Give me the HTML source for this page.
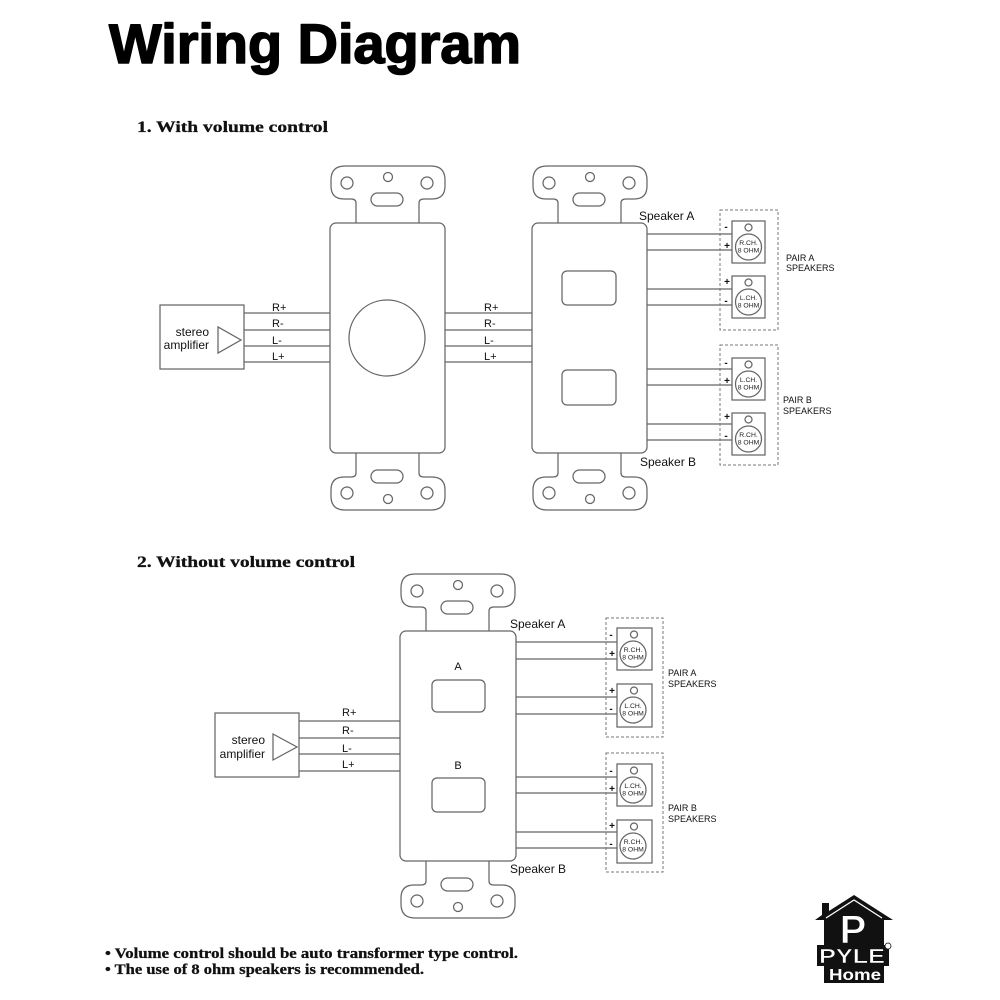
<!DOCTYPE html>
<html>
<head>
<meta charset="utf-8">
<style>
  html,body{margin:0;padding:0;background:#fff;}
  svg{display:block;}
  .ln{stroke:#666;stroke-width:1.25;fill:none;}
  .pl{stroke:#666;stroke-width:1.25;fill:#fff;}
  .ds{stroke:#777;stroke-width:1;fill:none;stroke-dasharray:3,2;}
  .lb{font-family:"Liberation Sans",Arial,sans-serif;font-size:11px;fill:#111;}
  .sp{font-family:"Liberation Sans",Arial,sans-serif;font-size:12px;fill:#111;}
  .pr{font-family:"Liberation Sans",Arial,sans-serif;font-size:9px;fill:#111;}
  .sg{font-family:"Liberation Sans",Arial,sans-serif;font-size:10px;font-weight:bold;fill:#111;text-anchor:middle;}
  .ch{font-family:"Liberation Sans",Arial,sans-serif;font-size:6.8px;fill:#222;text-anchor:middle;}
  .hd{font-family:"Liberation Serif","Times New Roman",serif;font-weight:bold;fill:#111;}
</style>
</head>
<body>
<svg width="1000" height="1000" viewBox="0 0 1000 1000" xmlns="http://www.w3.org/2000/svg">
<rect width="1000" height="1000" fill="#fff"/>

<!-- Title -->
<text x="109" y="63" font-family="'Liberation Sans',Arial,sans-serif" font-weight="bold" font-size="56" fill="#000" stroke="#000" stroke-width="1.6" stroke-linejoin="round" textLength="412" lengthAdjust="spacingAndGlyphs">Wiring Diagram</text>

<text class="hd" x="137" y="132" font-size="16" stroke="#111" stroke-width="0.3" textLength="191" lengthAdjust="spacingAndGlyphs">1. With volume control</text>
<text class="hd" x="137" y="567" font-size="16" stroke="#111" stroke-width="0.3" textLength="218" lengthAdjust="spacingAndGlyphs">2. Without volume control</text>

<!-- ================= DIAGRAM 1 ================= -->
<rect class="pl" x="160" y="305" width="84" height="64"/>
<polygon class="ln" points="218,327 218,353 241,340"/>
<text class="sp" x="209" y="336" text-anchor="end">stereo</text>
<text class="sp" x="209" y="349" text-anchor="end">amplifier</text>

<line class="ln" x1="244" y1="313" x2="330" y2="313"/>
<line class="ln" x1="244" y1="330" x2="330" y2="330"/>
<line class="ln" x1="244" y1="346" x2="330" y2="346"/>
<line class="ln" x1="244" y1="362" x2="330" y2="362"/>
<text class="lb" x="272" y="311">R+</text>
<text class="lb" x="272" y="327">R-</text>
<text class="lb" x="272" y="344">L-</text>
<text class="lb" x="272" y="360">L+</text>

<!-- plate 1 (volume) -->
<path class="pl" d="M356,223 V203 Q356,199 351,199 H344 Q331,199 331,186 V180 Q331,166 345,166 H431 Q445,166 445,180 V186 Q445,199 432,199 H424 Q419,199 419,203 V223"/>
<circle class="ln" cx="347" cy="183" r="6"/>
<circle class="ln" cx="427" cy="183" r="6"/>
<circle class="ln" cx="388" cy="177" r="4.5"/>
<rect class="ln" x="371" y="193" width="32" height="13" rx="6.5"/>
<path class="pl" d="M356,453 V473 Q356,477 351,477 H344 Q331,477 331,490 V496 Q331,510 345,510 H431 Q445,510 445,496 V490 Q445,477 432,477 H424 Q419,477 419,473 V453"/>
<circle class="ln" cx="347" cy="493" r="6"/>
<circle class="ln" cx="427" cy="493" r="6"/>
<circle class="ln" cx="388" cy="499" r="4.5"/>
<rect class="ln" x="371" y="470" width="32" height="13" rx="6.5"/>
<rect class="pl" x="330" y="223" width="115" height="230" rx="6"/>
<circle class="ln" cx="387" cy="338" r="38"/>

<line class="ln" x1="445" y1="313" x2="532" y2="313"/>
<line class="ln" x1="445" y1="330" x2="532" y2="330"/>
<line class="ln" x1="445" y1="346" x2="532" y2="346"/>
<line class="ln" x1="445" y1="362" x2="532" y2="362"/>
<text class="lb" x="484" y="311">R+</text>
<text class="lb" x="484" y="327">R-</text>
<text class="lb" x="484" y="344">L-</text>
<text class="lb" x="484" y="360">L+</text>

<!-- plate 2 (selector) -->
<path class="pl" d="M558,223 V203 Q558,199 553,199 H546 Q533,199 533,186 V180 Q533,166 547,166 H633 Q647,166 647,180 V186 Q647,199 634,199 H626 Q621,199 621,203 V223"/>
<circle class="ln" cx="549" cy="183" r="6"/>
<circle class="ln" cx="629" cy="183" r="6"/>
<circle class="ln" cx="590" cy="177" r="4.5"/>
<rect class="ln" x="573" y="193" width="32" height="13" rx="6.5"/>
<path class="pl" d="M558,453 V473 Q558,477 553,477 H546 Q533,477 533,490 V496 Q533,510 547,510 H633 Q647,510 647,496 V490 Q647,477 634,477 H626 Q621,477 621,473 V453"/>
<circle class="ln" cx="549" cy="493" r="6"/>
<circle class="ln" cx="629" cy="493" r="6"/>
<circle class="ln" cx="590" cy="499" r="4.5"/>
<rect class="ln" x="573" y="470" width="32" height="13" rx="6.5"/>
<rect class="pl" x="532" y="223" width="115" height="230" rx="6"/>
<rect class="ln" x="562" y="271" width="54" height="34" rx="5"/>
<rect class="ln" x="562" y="370" width="54" height="35" rx="5"/>

<text class="sp" x="639" y="220">Speaker A</text>
<text class="sp" x="640" y="466">Speaker B</text>

<line class="ln" x1="647" y1="234" x2="732" y2="234"/>
<line class="ln" x1="647" y1="250" x2="732" y2="250"/>
<line class="ln" x1="647" y1="289" x2="732" y2="289"/>
<line class="ln" x1="647" y1="305" x2="732" y2="305"/>
<line class="ln" x1="647" y1="369" x2="732" y2="369"/>
<line class="ln" x1="647" y1="385" x2="732" y2="385"/>
<line class="ln" x1="647" y1="424" x2="732" y2="424"/>
<line class="ln" x1="647" y1="440" x2="732" y2="440"/>

<rect class="ds" x="720" y="210" width="58" height="120"/>
<rect class="ds" x="720" y="345" width="58" height="120"/>

<rect class="pl" x="732" y="221" width="33" height="42"/>
<circle class="ln" cx="748.5" cy="227.5" r="3.5"/>
<circle class="ln" cx="748.5" cy="247" r="13"/>
<text class="ch" x="748.5" y="245">R.CH.</text>
<text class="ch" x="748.5" y="252.5">8 OHM</text>

<rect class="pl" x="732" y="276" width="33" height="42"/>
<circle class="ln" cx="748.5" cy="282.5" r="3.5"/>
<circle class="ln" cx="748.5" cy="302" r="13"/>
<text class="ch" x="748.5" y="300">L.CH.</text>
<text class="ch" x="748.5" y="307.5">8 OHM</text>

<rect class="pl" x="732" y="358" width="33" height="42"/>
<circle class="ln" cx="748.5" cy="364.5" r="3.5"/>
<circle class="ln" cx="748.5" cy="384" r="13"/>
<text class="ch" x="748.5" y="382">L.CH.</text>
<text class="ch" x="748.5" y="389.5">8 OHM</text>

<rect class="pl" x="732" y="413" width="33" height="42"/>
<circle class="ln" cx="748.5" cy="419.5" r="3.5"/>
<circle class="ln" cx="748.5" cy="439" r="13"/>
<text class="ch" x="748.5" y="437">R.CH.</text>
<text class="ch" x="748.5" y="444.5">8 OHM</text>

<text class="sg" x="726" y="230">-</text>
<text class="sg" x="727" y="249">+</text>
<text class="sg" x="727" y="285">+</text>
<text class="sg" x="726" y="304">-</text>
<text class="sg" x="726" y="366">-</text>
<text class="sg" x="727" y="384">+</text>
<text class="sg" x="727" y="420">+</text>
<text class="sg" x="726" y="439">-</text>

<text class="pr" x="786" y="261">PAIR A</text>
<text class="pr" x="786" y="271">SPEAKERS</text>
<text class="pr" x="783" y="403">PAIR B</text>
<text class="pr" x="783" y="414">SPEAKERS</text>

<!-- ================= DIAGRAM 2 ================= -->
<rect class="pl" x="215" y="713" width="84" height="64"/>
<polygon class="ln" points="273,734 273,760 297,747"/>
<text class="sp" x="265" y="744" text-anchor="end">stereo</text>
<text class="sp" x="265" y="758" text-anchor="end">amplifier</text>

<line class="ln" x1="299" y1="721" x2="400" y2="721"/>
<line class="ln" x1="299" y1="738" x2="400" y2="738"/>
<line class="ln" x1="299" y1="754" x2="400" y2="754"/>
<line class="ln" x1="299" y1="771" x2="400" y2="771"/>
<text class="lb" x="342" y="716">R+</text>
<text class="lb" x="342" y="734">R-</text>
<text class="lb" x="342" y="752">L-</text>
<text class="lb" x="342" y="768">L+</text>

<path class="pl" d="M426,631 V611 Q426,607 421,607 H414 Q401,607 401,594 V588 Q401,574 415,574 H501 Q515,574 515,588 V594 Q515,607 502,607 H494 Q489,607 489,611 V631"/>
<circle class="ln" cx="417" cy="591" r="6"/>
<circle class="ln" cx="497" cy="591" r="6"/>
<circle class="ln" cx="458" cy="585" r="4.5"/>
<rect class="ln" x="441" y="601" width="32" height="13" rx="6.5"/>
<path class="pl" d="M426,861 V881 Q426,885 421,885 H414 Q401,885 401,898 V904 Q401,918 415,918 H501 Q515,918 515,904 V898 Q515,885 502,885 H494 Q489,885 489,881 V861"/>
<circle class="ln" cx="417" cy="901" r="6"/>
<circle class="ln" cx="497" cy="901" r="6"/>
<circle class="ln" cx="458" cy="907" r="4.5"/>
<rect class="ln" x="441" y="878" width="32" height="13" rx="6.5"/>
<rect class="pl" x="400" y="631" width="116" height="230" rx="6"/>
<text class="lb" x="458" y="670" text-anchor="middle" font-size="10">A</text>
<rect class="ln" x="432" y="680" width="53" height="32" rx="5"/>
<text class="lb" x="458" y="769" text-anchor="middle" font-size="10">B</text>
<rect class="ln" x="432" y="778" width="53" height="34" rx="5"/>

<text class="sp" x="510" y="628">Speaker A</text>
<text class="sp" x="510" y="873">Speaker B</text>

<line class="ln" x1="516" y1="642" x2="617" y2="642"/>
<line class="ln" x1="516" y1="659" x2="617" y2="659"/>
<line class="ln" x1="516" y1="697" x2="617" y2="697"/>
<line class="ln" x1="516" y1="714" x2="617" y2="714"/>
<line class="ln" x1="516" y1="777" x2="617" y2="777"/>
<line class="ln" x1="516" y1="793" x2="617" y2="793"/>
<line class="ln" x1="516" y1="832" x2="617" y2="832"/>
<line class="ln" x1="516" y1="848" x2="617" y2="848"/>

<rect class="ds" x="606" y="618" width="57" height="119"/>
<rect class="ds" x="606" y="753" width="57" height="119"/>

<rect class="pl" x="617" y="628" width="35" height="42"/>
<circle class="ln" cx="634" cy="634.5" r="3.5"/>
<circle class="ln" cx="633" cy="654" r="13"/>
<text class="ch" x="633" y="652">R.CH.</text>
<text class="ch" x="633" y="659.5">8 OHM</text>

<rect class="pl" x="617" y="684" width="35" height="43"/>
<circle class="ln" cx="634" cy="690.5" r="3.5"/>
<circle class="ln" cx="633" cy="710" r="13"/>
<text class="ch" x="633" y="708">L.CH.</text>
<text class="ch" x="633" y="715.5">8 OHM</text>

<rect class="pl" x="617" y="764" width="35" height="42"/>
<circle class="ln" cx="634" cy="770.5" r="3.5"/>
<circle class="ln" cx="633" cy="790" r="13"/>
<text class="ch" x="633" y="788">L.CH.</text>
<text class="ch" x="633" y="795.5">8 OHM</text>

<rect class="pl" x="617" y="820" width="35" height="43"/>
<circle class="ln" cx="634" cy="826.5" r="3.5"/>
<circle class="ln" cx="633" cy="846" r="13"/>
<text class="ch" x="633" y="844">R.CH.</text>
<text class="ch" x="633" y="851.5">8 OHM</text>

<text class="sg" x="611" y="638">-</text>
<text class="sg" x="612" y="657">+</text>
<text class="sg" x="612" y="694">+</text>
<text class="sg" x="611" y="712">-</text>
<text class="sg" x="611" y="774">-</text>
<text class="sg" x="612" y="792">+</text>
<text class="sg" x="612" y="829">+</text>
<text class="sg" x="611" y="847">-</text>

<text class="pr" x="668" y="676">PAIR A</text>
<text class="pr" x="668" y="687">SPEAKERS</text>
<text class="pr" x="668" y="811">PAIR B</text>
<text class="pr" x="668" y="822">SPEAKERS</text>

<!-- footer notes -->
<text class="hd" x="105" y="958" font-size="15" stroke="#111" stroke-width="0.3" textLength="413" lengthAdjust="spacingAndGlyphs">• Volume control should be auto transformer type control.</text>
<text class="hd" x="105" y="974" font-size="15" stroke="#111" stroke-width="0.3" textLength="319" lengthAdjust="spacingAndGlyphs">• The use of 8 ohm speakers is recommended.</text>

<!-- logo -->
<g>
  <polygon fill="#111" points="854,895 893,920 884,920 884,945 889,945 889,966 884,966 884,983 824,983 824,966 817,966 817,945 824,945 824,920 815,920 822,915 822,903 829,903 829,911"/>
  <polyline points="826,918 854,900 882,918" fill="none" stroke="#fff" stroke-width="1.3"/>
  <text x="853" y="943" text-anchor="middle" font-family="'Liberation Sans',Arial,sans-serif" font-weight="bold" font-size="40" fill="#fff" stroke="#111" stroke-width="1">P</text>
  <text x="819" y="963" font-family="'Liberation Sans',Arial,sans-serif" font-weight="bold" font-size="20" fill="#fff" stroke="#111" stroke-width="0.6" textLength="66" lengthAdjust="spacingAndGlyphs">PYLE</text>
  <circle cx="888" cy="946" r="3" fill="#fff" stroke="#111" stroke-width="0.8"/>
  <text x="829" y="980" font-family="'Liberation Sans',Arial,sans-serif" font-weight="bold" font-size="16" fill="#fff" textLength="52" lengthAdjust="spacingAndGlyphs">Home</text>
</g>

</svg>
</body>
</html>
